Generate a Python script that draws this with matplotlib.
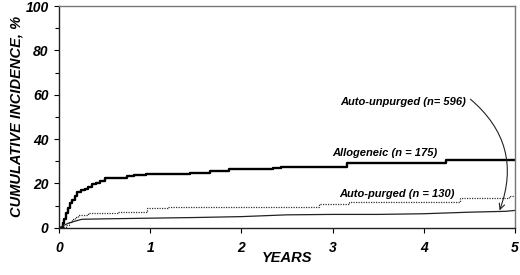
import matplotlib
matplotlib.use("Agg")
import matplotlib.pyplot as plt
from matplotlib.ticker import MultipleLocator

plt.rcParams['font.family'] = ['Liberation Sans', 'DejaVu Sans']

# Allogeneic (n = 175)
allo_t = [0, 0.03, 0.045, 0.06, 0.08, 0.10, 0.12, 0.14, 0.17, 0.20, 0.24, 0.28,
          0.32, 0.36, 0.40, 0.45, 0.50, 0.75, 0.82, 0.95, 1.44, 1.66, 1.86,
          2.35, 2.43, 3.16, 4.24, 5.0]
allo_v = [0, 0, 2, 4, 6.5, 9, 11, 12.5, 14.5, 16, 16.8, 17.5,
          18.5, 19.5, 20.2, 21, 22.5, 23.2, 23.7, 24.2, 24.8, 25.5, 26.3,
          26.8, 27.5, 29.0, 30.5, 30.5]

# Auto-purged (n = 130)
purged_t = [0, 0.06, 0.08, 0.11, 0.14, 0.17, 0.21, 0.32, 0.65, 0.96, 1.20,
            2.85, 3.18, 4.40, 4.93, 5.0]
purged_v = [0, 0.3, 1, 2.5, 3.8, 4.8, 5.7, 6.5, 7.2, 8.7, 9.5,
            10.6, 11.8, 13.2, 14.3, 14.3]

# Auto-unpurged (n = 596)
unpurged_t = [0, 0.05, 0.10, 0.18, 0.25, 0.5, 1.0, 1.5, 2.0, 2.5, 3.0, 3.5, 4.0, 4.5, 4.9, 5.0]
unpurged_v = [0, 1, 2, 3.0, 3.8, 4.0, 4.3, 4.6, 5.0, 5.8, 6.0, 6.0, 6.3, 7.0, 7.4, 7.8]

x_ticks = [0, 1, 2, 3, 4, 5]
y_ticks = [0, 20, 40, 60, 80, 100]

fig = plt.figure(figsize=(5.2, 2.75), dpi=100)
ax = fig.add_axes([0.1135, 0.172, 0.877, 0.806])

ax.plot(allo_t, allo_v, color='black', lw=1.7, drawstyle='steps-post')
ax.plot(purged_t, purged_v, color='#333333', lw=0.9, ls=(0, (1, 1)), drawstyle='steps-post')
ax.plot(unpurged_t, unpurged_v, color='#222222', lw=0.9)

ax.set_xlim(0, 5)
ax.set_ylim(0, 100)
ax.set_xticks(x_ticks)
ax.set_yticks(y_ticks)
ax.yaxis.set_minor_locator(MultipleLocator(10))
fs_tick = 10
for lab in ax.get_xticklabels() + ax.get_yticklabels():
    lab.set_fontweight('bold')
    lab.set_fontstyle('italic')
    lab.set_fontsize(fs_tick)
ax.tick_params(axis='both', which='major', direction='out', length=3.5, width=0.8, pad=4)
ax.tick_params(axis='y', which='minor', direction='out', length=3, width=0.8)
ax.tick_params(axis='x', pad=6)

for s in ['left', 'bottom']:
    ax.spines[s].set_linewidth(1.0)
    ax.spines[s].set_color('#222222')
for s in ['top', 'right']:
    ax.spines[s].set_linewidth(1.0)
    ax.spines[s].set_color('#777777')

ax.set_xlabel('YEARS', fontsize=10.5, fontweight='bold', fontstyle='italic', labelpad=-3)
ax.set_ylabel('CUMULATIVE INCIDENCE, %', fontsize=10.5, fontweight='bold', fontstyle='italic', labelpad=1)

tkw = dict(fontsize=8, fontweight='bold', fontstyle='italic', ha='center', va='center')
ax.text(3.57, 33.6, 'Allogeneic (n = 175)', **tkw)
ax.text(3.71, 15.2, 'Auto-purged (n = 130)', **tkw)
ax.text(3.77, 56.6, 'Auto-unpurged (n= 596)', **tkw)

ax.annotate('', xy=(4.83, 7.8), xytext=(4.51, 58.0),
            arrowprops=dict(arrowstyle='->', color='#222222', lw=0.8,
                            connectionstyle='arc3,rad=-0.35', shrinkA=0, shrinkB=0))

fig.savefig('out.png', dpi=100)
